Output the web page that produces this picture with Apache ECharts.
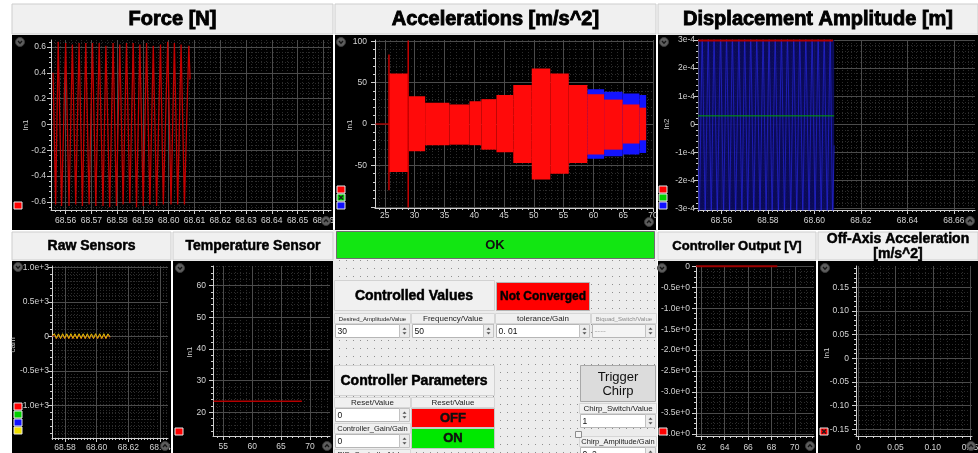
<!DOCTYPE html>
<html>
<head>
<meta charset="utf-8">
<title>Shaker control panel</title>
<script src="https://cdn.jsdelivr.net/npm/echarts@6/dist/echarts.min.js"></script>
<style>
html, body { margin: 0; padding: 0; background: #ffffff; }
#panel { width: 978px; height: 453px; }
</style>
</head>
<body>
<div id="panel"></div>
<script>
// ---------- Force [N] ----------
const forceTime = [68.5551, 68.5561, 68.5571, 68.5584, 68.5600, 68.5613, 68.5626, 68.5639, 68.5652, 68.5665,
  68.5678, 68.5691, 68.5704, 68.5717, 68.5730, 68.5745, 68.5756, 68.5771, 68.5784, 68.5797,
  68.5810, 68.5823, 68.5836, 68.5849, 68.5862, 68.5875, 68.5888, 68.5901, 68.5914, 68.5927,
  68.5940, 68.5953, 68.5968, 68.5979, 68.5996, 68.6009, 68.6022, 68.6035, 68.6048, 68.6061,
  68.6078, 68.6083];
const forceValue = [0.40, -0.62, 0.64, -0.63, 0.63, -0.63, 0.62, -0.62, 0.63, -0.63,
  0.63, -0.62, 0.63, -0.63, 0.63, -0.63, 0.61, -0.64, 0.63, -0.63,
  0.62, -0.62, 0.63, -0.61, 0.63, -0.64, 0.62, -0.63, 0.63, -0.62,
  0.61, -0.63, 0.62, -0.62, 0.64, -0.62, 0.63, -0.62, 0.62, -0.62,
  0.61, 0.35];
const forceXTicks = [68.56, 68.57, 68.58, 68.59, 68.60, 68.61, 68.62, 68.63, 68.64, 68.65, 68.66];
const forceXLabels = ['68.56', '68.57', '68.58', '68.59', '68.60', '68.61', '68.62', '68.63', '68.64', '68.65', '68.66'];
const forceYTicks = [-0.6, -0.4, -0.2, 0, 0.2, 0.4, 0.6];
const forceYLabels = ['-0.6', '-0.4', '-0.2', '0', '0.2', '0.4', '0.6'];

// ---------- Accelerations [m/s^2] ----------
const accelLeadTime = [23.45, 25.68];
const accelLeadValue = [0, 0];
// envelope of each excitation step: [t start, t end, low, high]
const accelRedBands = [
  [25.74, 28.90, -58, 61],
  [28.95, 31.77, -33, 33.5],
  [31.77, 35.84, -25.6, 25.6],
  [35.84, 39.22, -25, 23.6],
  [39.22, 41.20, -25.6, 27.5],
  [41.20, 43.74, -31, 30],
  [43.74, 46.56, -34, 35],
  [46.56, 49.66, -47, 47],
  [49.66, 52.77, -67, 67],
  [52.77, 55.87, -60, 61],
  [55.87, 58.98, -47, 47],
  [58.98, 61.80, -37, 36],
  [61.80, 64.90, -31, 29.5],
  [64.90, 67.72, -23.6, 23.6],
  [67.72, 68.85, -19.7, 19.7]
];
const accelBlueBands = [
  [58.98, 61.80, -42, 42],
  [61.80, 64.90, -39, 39],
  [64.90, 67.72, -37, 37],
  [67.72, 68.85, -35, 35]
];
// transients at step changes: [t, low, high]
const accelSpikes = [[25.70, -80, 84], [28.93, -101, 101]];
const accelXTicks = [25, 30, 35, 40, 45, 50, 55, 60, 65, 70];
const accelXLabels = ['25', '30', '35', '40', '45', '50', '55', '60', '65', '70'];
const accelYTicks = [-100, -50, 0, 50, 100];
const accelYLabels = ['', '-50', '0', '50', '100'];

// ---------- Displacement Amplitude [m] ----------
const dispTime = [68.5500, 68.5505, 68.5517, 68.5530, 68.5543, 68.5556, 68.5568, 68.5582, 68.5596, 68.5609,
  68.5622, 68.5635, 68.5647, 68.5661, 68.5675, 68.5688, 68.5700, 68.5713, 68.5726, 68.5739,
  68.5752, 68.5766, 68.5779, 68.5792, 68.5805, 68.5818, 68.5831, 68.5845, 68.5858, 68.5871,
  68.5884, 68.5898, 68.5911, 68.5924, 68.5937, 68.5950, 68.5963, 68.5977, 68.5990, 68.6003,
  68.6016, 68.6029, 68.6042, 68.6055, 68.6068, 68.6078, 68.6085];
const dispBlue = [-1.5e-4, -3.4e-4, 3.4e-4, -3.4e-4, 3.4e-4, -3.4e-4, 3.4e-4, -3.4e-4, 3.4e-4, -3.4e-4,
  3.4e-4, -3.4e-4, 3.4e-4, -3.4e-4, 3.4e-4, -3.4e-4, 3.4e-4, -3.4e-4, 3.4e-4, -3.4e-4,
  3.4e-4, -3.4e-4, 3.4e-4, -3.4e-4, 3.4e-4, -3.4e-4, 3.4e-4, -3.4e-4, 3.4e-4, -3.4e-4,
  3.4e-4, -3.4e-4, 3.4e-4, -3.4e-4, 3.4e-4, -3.4e-4, 3.4e-4, -3.4e-4, 3.4e-4, -3.4e-4,
  3.4e-4, -3.4e-4, 3.4e-4, -3.4e-4, 3.4e-4, -3.4e-4, -0.75e-4];
const dispBlueFill = [[68.5500, 68.6085, -3.05e-4, 3.0e-4]];
const dispRedTime = [68.5500, 68.6080];
const dispRedValue = [2.98e-4, 2.98e-4];
const dispGreenTime = [68.5500, 68.6085];
const dispGreenValue = [0.3e-4, 0.3e-4];
const dispXTicks = [68.56, 68.58, 68.60, 68.62, 68.64, 68.66];
const dispXLabels = ['68.56', '68.58', '68.60', '68.62', '68.64', '68.66'];
const dispYTicks = [-3e-4, -2e-4, -1e-4, 0, 1e-4, 2e-4, 3e-4];
const dispYLabels = ['-3e-4', '-2e-4', '-1e-4', '0', '1e-4', '2e-4', '3e-4'];

// ---------- Raw Sensors ----------
const rawTime = [68.5720, 68.5733, 68.5746, 68.5759, 68.5772, 68.5785, 68.5798, 68.5811, 68.5824, 68.5837,
  68.5850, 68.5863, 68.5876, 68.5889, 68.5902, 68.5915, 68.5928, 68.5941, 68.5954, 68.5967,
  68.5980, 68.5993, 68.6006, 68.6019, 68.6032, 68.6045, 68.6058, 68.6071, 68.6084];
const rawYellow = [10, 38, -30, 36, -32, 38, -30, 37, -31, 38, -30, 36, -32, 38, -30, 37, -31, 38, -30, 36,
  -32, 38, -30, 37, -31, 38, -30, 36, -10];
const rawRed = [-5, 30, -36, 30, -36, 31, -35, 30, -36, 30, -36, 31, -35, 30, -36, 30, -36, 31, -35, 30,
  -36, 30, -36, 31, -35, 30, -36, 30, -20];
const rawXTicks = [68.58, 68.60, 68.62, 68.64];
const rawXLabels = ['68.58', '68.60', '68.62', '68.64'];
const rawYTicks = [-1000, -500, 0, 500, 1000];
const rawYLabels = ['-1.0e+3', '-0.5e+3', '0', '0.5e+3', '1.0e+3'];

// ---------- Temperature Sensor ----------
const tempTime = [53.3, 68.6];
const tempValue = [23.5, 23.5];
const tempXTicks = [55, 60, 65, 70];
const tempXLabels = ['55', '60', '65', '70'];
const tempYTicks = [20, 30, 40, 50, 60];
const tempYLabels = ['20', '30', '40', '50', '60'];

// ---------- Controller Output [V] ----------
const ctrlTime = [61.55, 68.5];
const ctrlValue = [0, 0];
const ctrlXTicks = [62, 64, 66, 68, 70];
const ctrlXLabels = ['62', '64', '66', '68', '70'];
const ctrlYTicks = [-4, -3.5, -3, -2.5, -2, -1.5, -1, -0.5, 0];
const ctrlYLabels = ['-4.0e+0', '-3.5e+0', '-3.0e+0', '-2.5e+0', '-2.0e+0', '-1.5e+0', '-1.0e+0', '-0.5e+0', '0'];

// ---------- Off-Axis Acceleration [m/s^2] ----------
const offXTicks = [0, 0.05, 0.10, 0.15];
const offXLabels = ['0', '0.05', '0.10', '0.15'];
const offYTicks = [-0.15, -0.10, -0.05, 0, 0.05, 0.10, 0.15];
const offYLabels = ['-0.15', '-0.10', '-0.05', '0', '0.05', '0.10', '0.15'];

// ================= drawing =================
const FONT = '"Liberation Sans", Arial, Helvetica, sans-serif';
const AXIS_COLOR = '#cfcfcf';
const LABEL_COLOR = '#d4d4d4';
const MAJOR_GRID = '#4b4b4b';
const MINOR_GRID = '#2c2c2c';

const option = {
  animation: false,
  backgroundColor: '#ffffff',
  textStyle: { fontFamily: FONT },
  grid: [], xAxis: [], yAxis: [], series: [],
  graphic: { elements: [] }
};
const G = option.graphic.elements;

function labelFormatter(ticks, labels) {
  return function (v) {
    let best = 0;
    for (let i = 1; i < ticks.length; i++) {
      if (Math.abs(ticks[i] - v) < Math.abs(ticks[best] - v)) best = i;
    }
    return labels[best];
  };
}

function minorValues(ticks, n, min, max) {
  const step = (ticks[1] - ticks[0]) / n;
  const out = [];
  const eps = step * 1e-6;
  for (let k = 0; ticks[0] - k * step >= min - eps; k++) out.push(ticks[0] - k * step);
  for (let k = 1; ticks[0] + k * step <= max + eps; k++) out.push(ticks[0] + k * step);
  return out;
}

function axisPair(dim, gi, a) {
  const pos = dim === 'x' ? 'bottom' : 'left';
  const minor = {
    type: 'value', gridIndex: gi, position: pos, min: a.min, max: a.max, z: 1,
    axisLine: { show: false, onZero: false },
    axisLabel: { show: false },
    axisTick: { show: true, length: 2, customValues: minorValues(a.ticks, a.minor, a.min, a.max),
      lineStyle: { color: AXIS_COLOR, width: 1 } },
    splitLine: { show: true, lineStyle: { color: MINOR_GRID, width: 1, type: [1, 2] } }
  };
  const major = {
    type: 'value', gridIndex: gi, position: pos, min: a.min, max: a.max, z: 2,
    axisLine: { show: true, onZero: false, lineStyle: { color: AXIS_COLOR, width: 1 } },
    axisTick: { show: true, length: 4, customValues: a.ticks, lineStyle: { color: AXIS_COLOR, width: 1 } },
    axisLabel: { show: true, customValues: a.ticks, formatter: labelFormatter(a.ticks, a.labels),
      color: LABEL_COLOR, fontSize: 8.5, fontFamily: FONT, margin: a.margin },
    splitLine: { show: true, lineStyle: { color: MAJOR_GRID, width: 1 } }
  };
  return [minor, major];
}

function addPanel(p) {
  const gi = option.grid.length;
  option.grid.push({ left: p.left, top: p.top, width: p.width, height: p.height, show: false,
    containLabel: false, outerBoundsMode: 'none' });
  const xi = option.xAxis.length, yi = option.yAxis.length;
  option.xAxis.push(...axisPair('x', gi, p.x));
  option.yAxis.push(...axisPair('y', gi, p.y));
  return { xAxisIndex: xi + 1, yAxisIndex: yi + 1 };
}

function zip(a, b) { return a.map((v, i) => [v, b[i]]); }

function lineSeries(ax, t, v, color, width, extra) {
  return Object.assign({
    type: 'line', xAxisIndex: ax.xAxisIndex, yAxisIndex: ax.yAxisIndex, data: zip(t, v),
    showSymbol: false, symbol: 'none', silent: true, z: 3,
    lineStyle: { color: color, width: width }, itemStyle: { color: color }
  }, extra || {});
}

function bandSeries(ax, bands, color) {
  return {
    type: 'custom', xAxisIndex: ax.xAxisIndex, yAxisIndex: ax.yAxisIndex, data: bands,
    encode: { x: [0, 1], y: [2, 3] }, silent: true, z: 3,
    renderItem: function (params, api) {
      const a = api.coord([api.value(0), api.value(3)]);
      const b = api.coord([api.value(1), api.value(2)]);
      return { type: 'rect', shape: { x: a[0], y: a[1], width: b[0] - a[0], height: b[1] - a[1] },
        style: { fill: color } };
    }
  };
}

function spikeSeries(ax, spikes, color, width) {
  return {
    type: 'custom', xAxisIndex: ax.xAxisIndex, yAxisIndex: ax.yAxisIndex, data: spikes,
    encode: { x: 0, y: [1, 2] }, silent: true, z: 4,
    renderItem: function (params, api) {
      const a = api.coord([api.value(0), api.value(1)]);
      const b = api.coord([api.value(0), api.value(2)]);
      return { type: 'line', shape: { x1: a[0], y1: a[1], x2: b[0], y2: b[1] },
        style: { stroke: color, lineWidth: width } };
    }
  };
}

// ---- graphic helpers ----
function box(x, y, w, h, fill, stroke, z) {
  G.push({ type: 'rect', silent: true, z: z == null ? -5 : z,
    shape: { x: x, y: y, width: w, height: h },
    style: { fill: fill, stroke: stroke || null, lineWidth: stroke ? 1 : 0 } });
}
function label(x, y, str, size, opts) {
  opts = opts || {};
  const style = { text: str, fill: opts.color || '#000000', fontSize: size, fontWeight: opts.weight || 'normal',
    fontFamily: opts.family || FONT, align: opts.align || 'center', verticalAlign: 'middle' };
  if (opts.heavy) { style.stroke = opts.color || '#000000'; style.lineWidth = opts.heavy; }
  G.push({ type: 'text', silent: true, z: opts.z == null ? 20 : opts.z, x: x, y: y,
    rotation: opts.rotation || 0, style: style });
}
function header(x, y, w, h, lines, size, lh) {
  box(x, y, w, h, '#f0f0f0', '#cdcdcd', -4);
  lh = lh || size + 3;
  lines.forEach((s, i) => label(x + w / 2, y + h / 2 + (i - (lines.length - 1) / 2) * lh + 0.5, s, size,
    { weight: 'bold', color: '#000000', heavy: size >= 18 ? 0.9 : 0.5 }));
}
function cornerIcon(cx, cy, up) {
  G.push({ type: 'circle', silent: true, z: 30, shape: { cx: cx, cy: cy, r: 4.5 },
    style: { fill: '#5e5e5e', stroke: '#3a3a3a', lineWidth: 1 } });
  const d = up ? -1 : 1;
  G.push({ type: 'polyline', silent: true, z: 31,
    shape: { points: [[cx - 2, cy - d], [cx, cy + d * 1.2], [cx + 2, cy - d]] },
    style: { stroke: '#161616', lineWidth: 1.3, fill: null } });
}
function swatch(x, y, color, crossed) {
  box(x, y, 8, 7, color, '#e8e8e8', 30);
  if (crossed) {
    G.push({ type: 'line', silent: true, z: 31, shape: { x1: x + 2, y1: y + 1.5, x2: x + 6, y2: y + 5.5 },
      style: { stroke: '#1a1a1a', lineWidth: 1.2 } });
    G.push({ type: 'line', silent: true, z: 31, shape: { x1: x + 6, y1: y + 1.5, x2: x + 2, y2: y + 5.5 },
      style: { stroke: '#1a1a1a', lineWidth: 1.2 } });
  }
}
function axisName(x, y, str) {
  label(x, y, str, 8, { rotation: Math.PI / 2, color: '#cfcfcf', z: 25 });
}
function spinner(x, y, h) {
  box(x, y, 10, h, '#ececec', '#c2c2c2', 12);
  const cx = x + 5, mid = y + h / 2;
  G.push({ type: 'polygon', silent: true, z: 13,
    shape: { points: [[cx - 2, mid - 1.2], [cx + 2, mid - 1.2], [cx, mid - 3.4]] }, style: { fill: '#505050' } });
  G.push({ type: 'polygon', silent: true, z: 13,
    shape: { points: [[cx - 2, mid + 1.2], [cx + 2, mid + 1.2], [cx, mid + 3.4]] }, style: { fill: '#505050' } });
}
function field(x, y, w, h, value, disabled) {
  box(x, y, w - 10, h, disabled ? '#f4f4f4' : '#ffffff', '#b6b6b6', 11);
  spinner(x + w - 10, y, h);
  label(x + 2, y + h / 2 + 0.5, value, 8.5, { align: 'left', color: disabled ? '#b4b4b4' : '#111111', z: 14 });
}
function cellLabel(x, y, w, h, str, size, color) {
  box(x, y, w, h, '#f0f0f0', '#d6d6d6', 10);
  label(x + w / 2, y + h / 2 + 0.5, str, size, { color: color || '#222222', z: 14 });
}

// ---- page background pieces ----
// headers
header(12, 4, 321, 30, ['Force [N]'], 20);
header(335, 4, 321, 30, ['Accelerations [m/s^2]'], 20);
header(658, 4, 320, 30, ['Displacement Amplitude [m]'], 20);
header(12, 232, 159, 28, ['Raw Sensors'], 14);
header(173, 232, 160, 28, ['Temperature Sensor'], 14);
header(658, 232, 158, 28, ['Controller Output [V]'], 13);
header(818, 232, 160, 28, ['Off-Axis Acceleration', '[m/s^2]'], 14, 15);

// dark plot frames
box(12, 35, 321, 195, '#000000');
box(335, 35, 321, 195, '#000000');
box(658, 35, 320, 195, '#000000');
box(12, 261, 159, 192, '#000000');
box(173, 261, 160, 192, '#000000');
box(658, 261, 158, 192, '#000000');
box(818, 261, 160, 192, '#000000');

// ---- plots ----
const forceAx = addPanel({ left: 51, top: 40, width: 280, height: 170,
  x: { min: 68.5543, max: 68.6630, ticks: forceXTicks, labels: forceXLabels, minor: 5, margin: 6 },
  y: { min: -0.662, max: 0.654, ticks: forceYTicks, labels: forceYLabels, minor: 5, margin: 5 } });
option.series.push(lineSeries(forceAx, forceTime, forceValue, '#c40000', 1.3));

const accelAx = addPanel({ left: 375, top: 40, width: 278, height: 168,
  x: { min: 23.36, max: 70.0, ticks: accelXTicks, labels: accelXLabels, minor: 5, margin: 3 },
  y: { min: -101.5, max: 101.5, ticks: accelYTicks, labels: accelYLabels, minor: 5, margin: 8 } });
option.series.push(bandSeries(accelAx, accelBlueBands, '#1414ff'));
option.series.push(bandSeries(accelAx, accelRedBands, '#ff0a0a'));
option.series.push(spikeSeries(accelAx, accelSpikes, '#c80000', 1.5));
option.series.push(lineSeries(accelAx, accelLeadTime, accelLeadValue, '#a00000', 1.5));

const dispAx = addPanel({ left: 698, top: 40, width: 277, height: 170,
  x: { min: 68.5499, max: 68.6691, ticks: dispXTicks, labels: dispXLabels, minor: 10, margin: 6 },
  y: { min: -3.05e-4, max: 3.0e-4, ticks: dispYTicks, labels: dispYLabels, minor: 5, margin: 3 } });
option.series.push(bandSeries(dispAx, dispBlueFill, 'rgba(12,12,96,0.9)'));
option.series.push(lineSeries(dispAx, dispTime, dispBlue, '#2a2af0', 1, { lineStyle: { color: '#2a2af0', width: 1, opacity: 0.6 } }));
option.series.push(lineSeries(dispAx, dispRedTime, dispRedValue, '#b00000', 2, { clip: false }));
option.series.push(lineSeries(dispAx, dispGreenTime, dispGreenValue, '#00a400', 1));

const rawAx = addPanel({ left: 52, top: 266, width: 116, height: 172,
  x: { min: 68.5718, max: 68.6450, ticks: rawXTicks, labels: rawXLabels, minor: 10, margin: 5 },
  y: { min: -1474, max: 1019, ticks: rawYTicks, labels: rawYLabels, minor: 5, margin: 3 } });
option.series.push(lineSeries(rawAx, rawTime, rawRed, '#d01818', 1));
option.series.push(lineSeries(rawAx, rawTime, rawYellow, '#d6c400', 1));

const tempAx = addPanel({ left: 213, top: 266, width: 117, height: 170,
  x: { min: 53.22, max: 73.46, ticks: tempXTicks, labels: tempXLabels, minor: 5, margin: 6 },
  y: { min: 12.55, max: 66.2, ticks: tempYTicks, labels: tempYLabels, minor: 5, margin: 7 } });
option.series.push(lineSeries(tempAx, tempTime, tempValue, '#b40000', 1.5));

const ctrlAx = addPanel({ left: 696, top: 266, width: 118, height: 170,
  x: { min: 61.54, max: 71.64, ticks: ctrlXTicks, labels: ctrlXLabels, minor: 4, margin: 7 },
  y: { min: -4.048, max: 0.007, ticks: ctrlYTicks, labels: ctrlYLabels, minor: 4, margin: 6 } });
option.series.push(lineSeries(ctrlAx, ctrlTime, ctrlValue, '#a00000', 2, { clip: false }));

addPanel({ left: 856, top: 266, width: 116, height: 170,
  x: { min: -0.0031, max: 0.1527, ticks: offXTicks, labels: offXLabels, minor: 5, margin: 7 },
  y: { min: -0.164, max: 0.1949, ticks: offYTicks, labels: offYLabels, minor: 5, margin: 7 } });

// ---- plot decorations: axis names, legends, corner buttons ----
axisName(26, 125, 'ln1');
axisName(350, 125, 'ln1');
axisName(667, 124, 'ln2');
axisName(13, 345, 'cam');
axisName(190, 352, 'ln1');
axisName(827, 353, 'ln1');

swatch(14, 202, '#ff0000');
swatch(337, 186, '#ff0000');
swatch(337, 194, '#00d000', true);
swatch(337, 202, '#1010ff');
swatch(659, 186, '#ff0000');
swatch(659, 194, '#00d000');
swatch(659, 202, '#1010ff');
swatch(14, 403, '#ff0000');
swatch(14, 411, '#00d000');
swatch(14, 419, '#1010ff');
swatch(14, 427, '#f0e000');
swatch(175, 428, '#ff0000');
swatch(659, 428, '#ff0000');
swatch(820, 428, '#ff0000', true);

cornerIcon(20, 42, false);   cornerIcon(326, 221, true);
cornerIcon(341, 42, false);  cornerIcon(649, 222, true);
cornerIcon(664, 42, false);  cornerIcon(970, 221, true);
cornerIcon(18, 267, false);  cornerIcon(165, 446, true);
cornerIcon(180, 268, false); cornerIcon(327, 446, true);
cornerIcon(662, 268, false); cornerIcon(810, 446, true);
cornerIcon(825, 268, false); cornerIcon(971, 446, true);

// ---- control area ----
const dotTile = document.createElement('canvas');
dotTile.width = 7; dotTile.height = 8;
const dctx = dotTile.getContext('2d');
dctx.fillStyle = '#ececec'; dctx.fillRect(0, 0, 7, 8);
dctx.fillStyle = '#8e8e8e'; dctx.fillRect(3, 4, 1, 1);

box(333, 229, 324, 31, '#f0f0f0', null, -6);
G.push({ type: 'rect', silent: true, z: -6, shape: { x: 333, y: 260, width: 324, height: 193 },
  style: { fill: { image: dotTile, repeat: 'repeat' } } });

// status bar
box(336.5, 231.5, 318, 27, '#12e612', '#6e6e6e', 10);
label(495, 245.5, 'OK', 13, { weight: 'bold', color: '#101010' });

// controlled values block
box(334.5, 280.5, 160, 30, '#f0f0f0', '#d2d2d2', 10);
label(414, 296, 'Controlled Values', 14, { weight: 'bold', heavy: 0.5 });
box(496.5, 282.5, 93, 28, '#ff0000', '#b4b4b4', 10);
label(543, 296.5, 'Not Converged', 12, { weight: 'bold', heavy: 0.4 });

cellLabel(334.5, 313.5, 76, 10, 'Desired_Amplitude/Value', 6);
cellLabel(411.5, 313.5, 83, 10, 'Frequency/Value', 8);
cellLabel(495.5, 313.5, 95, 10, 'tolerance/Gain', 8);
cellLabel(591.5, 313.5, 65, 10, 'Biquad_Switch/Value', 6, '#8a8a8a');
field(335.5, 324.5, 74, 13, '30');
field(412.5, 324.5, 81, 13, '50');
field(496.5, 324.5, 93, 13, '0. 01');
field(592.5, 324.5, 63, 13, '----', true);

// controller parameters block
box(334.5, 365.5, 160, 30, '#f0f0f0', '#d2d2d2', 10);
label(414, 381, 'Controller Parameters', 14, { weight: 'bold', heavy: 0.5 });

cellLabel(334.5, 397.5, 76, 10, 'Reset/Value', 8);
field(335.5, 408.5, 74, 13, '0');
cellLabel(334.5, 423.5, 76, 10, 'Controller_Gain/Gain', 7.5);
field(335.5, 434.5, 74, 13, '0');
cellLabel(334.5, 449.5, 76, 10, 'PID_Controller/Value', 7.5);

cellLabel(411.5, 397.5, 83, 10, 'Reset/Value', 8);
box(411.5, 408.5, 83, 19, '#ff0000', '#c8c8c8', 10);
label(453, 418.5, 'OFF', 13, { weight: 'bold', color: '#101010', heavy: 0.5 });
box(411.5, 428.5, 83, 20, '#00e800', '#c8c8c8', 10);
label(453, 438.5, 'ON', 13, { weight: 'bold', color: '#101010', heavy: 0.5 });

// chirp block
box(580.5, 365.5, 75, 36, '#dcdcdc', '#a8a8a8', 10);
label(618, 377, 'Trigger', 13, { color: '#111111' });
label(618, 391, 'Chirp', 13, { color: '#111111' });
cellLabel(579.5, 403.5, 77, 10, 'Chirp_Switch/Value', 8);
field(580.5, 414.5, 75, 13, '1');
box(575.5, 431.5, 6, 6, '#f4f4f4', '#8c8c8c', 12);
cellLabel(579.5, 436.5, 77, 10, 'Chirp_Amplitude/Gain', 7.5);
field(580.5, 447.5, 75, 13, '0. 2');

const chart = echarts.init(document.getElementById('panel'), null, { renderer: 'canvas' });
chart.setOption(option);
</script>
</body>
</html>
